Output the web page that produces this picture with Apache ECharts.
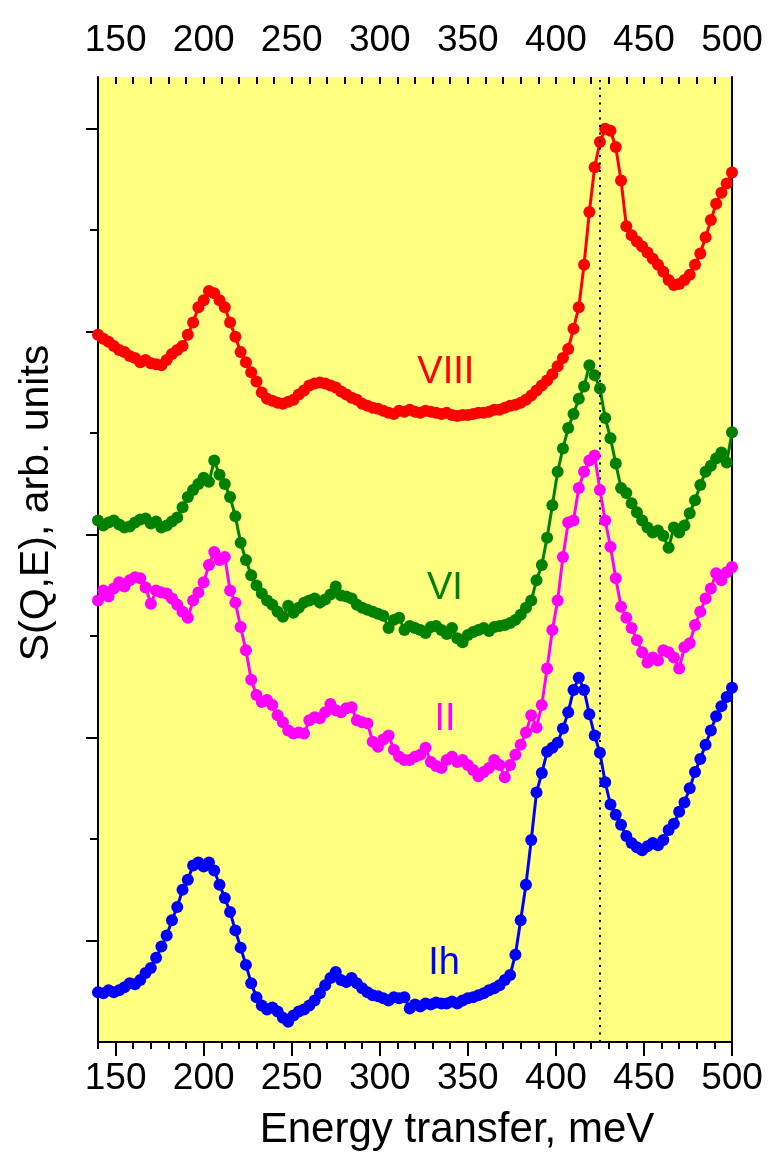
<!DOCTYPE html>
<html>
<head>
<meta charset="utf-8">
<script src="https://cdn.jsdelivr.net/npm/echarts@6/dist/echarts.min.js"></script>
<style>
  html, body { margin: 0; padding: 0; background: #ffffff; }
  #chart { width: 783px; height: 1158px; }
</style>
</head>
<body>
<div id="chart"></div>
<script>
// Energy transfer grid, meV
const energy = [
  140,143,146,149,152,155,158,161,164,167,
  170,173,176,179,182,185,188,191,194,197,
  200,203,206,209,212,215,218,221,224,227,
  230,233,236,239,242,245,248,251,254,257,
  260,263,266,269,272,275,278,281,284,287,
  290,293,296,299,302,305,308,311,314,317,
  320,323,326,329,332,335,338,341,344,347,
  350,353,356,359,362,365,368,371,374,377,
  380,383,386,389,392,395,398,401,404,407,
  410,413,416,419,422,425,428,431,434,437,
  440,443,446,449,452,455,458,461,464,467,
  470,473,476,479,482,485,488,491,494,497,
  500
];

// S(Q,E) for each ice phase, arbitrary units (curves offset vertically)
const iceVIII = [
  6.97,6.93,6.90,6.86,6.82,6.80,6.76,6.74,6.70,6.72,
  6.69,6.68,6.67,6.72,6.78,6.82,6.86,6.97,7.09,7.24,
  7.31,7.40,7.38,7.31,7.24,7.09,6.95,6.80,6.70,6.60,
  6.51,6.40,6.34,6.32,6.30,6.29,6.31,6.33,6.38,6.42,
  6.47,6.49,6.50,6.49,6.47,6.45,6.41,6.38,6.35,6.33,
  6.29,6.27,6.25,6.24,6.22,6.20,6.19,6.22,6.21,6.23,
  6.21,6.20,6.22,6.21,6.20,6.19,6.20,6.18,6.17,6.18,
  6.18,6.19,6.20,6.20,6.21,6.23,6.23,6.25,6.27,6.28,
  6.30,6.33,6.37,6.42,6.47,6.52,6.58,6.66,6.74,6.83,
  7.03,7.24,7.66,8.18,8.62,8.87,9.00,8.98,8.82,8.49,
  8.04,7.95,7.89,7.84,7.78,7.72,7.66,7.59,7.51,7.46,
  7.47,7.51,7.56,7.66,7.77,7.93,8.10,8.26,8.37,8.46,
  8.57
];
const iceVI = [
  5.14,5.09,5.12,5.14,5.10,5.07,5.08,5.12,5.15,5.16,
  5.11,5.13,5.07,5.09,5.13,5.17,5.27,5.37,5.44,5.50,
  5.56,5.52,5.73,5.59,5.50,5.37,5.18,4.92,4.75,4.60,
  4.50,4.42,4.35,4.31,4.24,4.19,4.30,4.23,4.28,4.33,
  4.35,4.37,4.33,4.36,4.41,4.49,4.40,4.39,4.37,4.31,
  4.28,4.26,4.24,4.22,4.20,4.08,4.16,4.18,4.06,4.10,
  4.08,4.06,4.03,4.09,4.10,4.06,4.02,4.08,3.98,3.94,
  4.01,4.04,4.06,4.08,4.05,4.09,4.10,4.11,4.13,4.16,
  4.21,4.28,4.35,4.55,4.70,4.97,5.29,5.62,5.85,6.05,
  6.19,6.34,6.46,6.67,6.57,6.44,6.15,5.95,5.70,5.46,
  5.41,5.31,5.22,5.14,5.07,5.02,5.04,4.99,4.87,5.07,
  5.02,5.09,5.21,5.34,5.49,5.62,5.68,5.75,5.81,5.71,
  6.01
];
const iceII = [
  4.35,4.45,4.39,4.47,4.53,4.49,4.55,4.58,4.57,4.48,
  4.32,4.45,4.43,4.42,4.37,4.31,4.24,4.18,4.35,4.43,
  4.53,4.70,4.83,4.75,4.78,4.45,4.33,4.09,3.86,3.57,
  3.42,3.35,3.37,3.32,3.22,3.15,3.07,3.04,3.05,3.04,
  3.17,3.20,3.19,3.25,3.33,3.27,3.25,3.29,3.30,3.17,
  3.15,3.14,2.96,2.91,2.98,3.02,2.88,2.81,2.78,2.78,
  2.81,2.83,2.90,2.76,2.72,2.70,2.78,2.81,2.76,2.78,
  2.73,2.68,2.62,2.66,2.70,2.78,2.73,2.61,2.73,2.83,
  2.93,3.05,3.22,3.10,3.32,3.68,4.06,4.35,4.78,5.12,
  5.14,5.46,5.62,5.73,5.78,5.44,5.14,4.88,4.57,4.29,
  4.18,4.08,3.96,3.84,3.74,3.79,3.76,3.86,3.84,3.79,
  3.68,3.89,3.93,4.11,4.24,4.37,4.47,4.62,4.55,4.63,
  4.68
];
const iceIh = [
  0.49,0.48,0.51,0.49,0.51,0.54,0.58,0.57,0.61,0.68,
  0.73,0.83,0.94,1.05,1.20,1.33,1.50,1.60,1.74,1.77,
  1.73,1.77,1.69,1.55,1.42,1.28,1.10,0.93,0.76,0.58,
  0.44,0.36,0.32,0.34,0.30,0.24,0.20,0.26,0.30,0.32,
  0.36,0.41,0.48,0.56,0.63,0.69,0.61,0.59,0.63,0.58,
  0.53,0.49,0.46,0.45,0.43,0.41,0.44,0.43,0.44,0.33,
  0.37,0.35,0.38,0.37,0.39,0.38,0.38,0.40,0.38,0.41,
  0.43,0.44,0.46,0.48,0.51,0.53,0.56,0.61,0.66,0.86,
  1.20,1.55,1.99,2.46,2.65,2.86,2.90,2.95,3.09,3.25,
  3.47,3.59,3.47,3.23,3.02,2.85,2.56,2.34,2.24,2.14,
  2.03,1.96,1.92,1.89,1.93,1.96,1.94,1.99,2.09,2.15,
  2.27,2.36,2.50,2.66,2.79,2.93,3.07,3.21,3.31,3.40,
  3.49
];

// Tick positions
const energyMajorTicks = [150, 200, 250, 300, 350, 400, 450, 500];
const energyMinorTicks = [140,150,160,170,180,190,200,210,220,230,240,250,260,270,280,290,
                          300,310,320,330,340,350,360,370,380,390,400,410,420,430,440,450,
                          460,470,480,490,500];
const intensityMajorTicks = [1, 3, 5, 7, 9];
const intensityMinorTicks = [2, 4, 6, 8];
const referenceEnergy = 425;   // dotted guide line

const FONT = '"Liberation Sans", Arial, Helvetica, sans-serif';
const E_MIN = 140, E_MAX = 500, S_MIN = 0, S_MAX = 9.51;

const phases = [
  { name: 'VIII', values: iceVIII, color: '#ff0000', tag: [337.5, 6.60] },
  { name: 'VI',   values: iceVI,   color: '#008000', tag: [337.0, 4.47] },
  { name: 'II',   values: iceII,   color: '#ff00ff', tag: [337.0, 3.18] },
  { name: 'Ih',   values: iceIh,   color: '#0000ff', tag: [336.5, 0.77] }
];

const axisLine = { show: true, lineStyle: { color: '#000', width: 2 } };

function xAxisDef(position, ticks, len, inside, labels, lineOn) {
  return {
    type: 'value', position, min: E_MIN, max: E_MAX, splitLine: { show: false },
    axisLine: lineOn ? axisLine : { show: false },
    axisTick: { show: true, inside, length: len, customValues: ticks,
                lineStyle: { color: '#000', width: 2 } },
    axisLabel: labels
      ? { show: true, customValues: energyMajorTicks, fontSize: 37, fontFamily: FONT,
          color: '#000', margin: 18 }
      : { show: false }
  };
}
function yAxisDef(position, ticks, len, lineOn) {
  return {
    type: 'value', position, min: S_MIN, max: S_MAX, splitLine: { show: false },
    axisLine: lineOn ? axisLine : { show: false },
    axisTick: ticks
      ? { show: true, inside: false, length: len, customValues: ticks,
          lineStyle: { color: '#000', width: 2 } }
      : { show: false },
    axisLabel: { show: false }
  };
}

const series = phases.map((p, k) => ({
  name: p.name,
  type: 'line',
  xAxisIndex: 0, yAxisIndex: 0,
  data: energy.map((e, i) => [e, p.values[i]]),
  symbol: 'circle',
  symbolSize: 12,
  showAllSymbol: true,
  lineStyle: { color: p.color, width: 3 },
  itemStyle: { color: p.color },
  emphasis: { disabled: true },
  z: 3 + k,
  markPoint: {
    silent: true,
    symbol: 'circle', symbolSize: 0,
    itemStyle: { color: 'transparent' },
    label: { show: true, position: 'inside', formatter: p.name, color: p.color,
             fontSize: 38, fontFamily: FONT },
    data: [{ coord: p.tag }]
  }
}));

series[0].markLine = {
  silent: true,
  symbol: ['none', 'none'],
  label: { show: false },
  lineStyle: { color: '#000', width: 2, type: [2, 5.5] },
  data: [{ xAxis: referenceEnergy }]
};

const chart = echarts.init(document.getElementById('chart'), null, { renderer: 'canvas' });
chart.setOption({
  animation: false,
  backgroundColor: '#ffffff',
  textStyle: { fontFamily: FONT },
  grid: { left: 98, right: 51, top: 77, bottom: 116, show: true,
          backgroundColor: '#ffff80', borderWidth: 0 },
  xAxis: [
    xAxisDef('bottom', energyMajorTicks, 14, false, true, true),
    xAxisDef('bottom', energyMinorTicks, 7, false, false, false),
    xAxisDef('top', energyMajorTicks, 13, true, true, true),
    xAxisDef('top', energyMinorTicks, 7, true, false, false)
  ],
  yAxis: [
    yAxisDef('left', intensityMajorTicks, 12, true),
    yAxisDef('left', intensityMinorTicks, 8, false),
    yAxisDef('right', null, 0, true)
  ],
  graphic: [
    { type: 'text', x: 457, y: 1130, silent: true,
      style: { text: 'Energy transfer, meV', font: '42px ' + FONT, fill: '#000',
               align: 'center', verticalAlign: 'middle' } },
    { type: 'text', x: 37, y: 503, rotation: Math.PI / 2, silent: true,
      style: { text: 'S(Q,E), arb. units', font: '41px ' + FONT, fill: '#000',
               align: 'center', verticalAlign: 'middle' } }
  ],
  series
});
</script>
</body>
</html>
